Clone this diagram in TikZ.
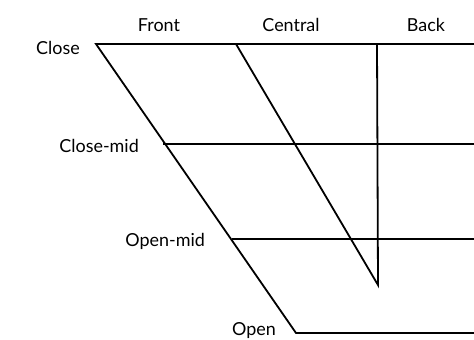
\documentclass[tikz,border=0pt]{standalone}
\usepackage{fontspec}
\setmainfont{Lato}
\begin{document}
\begin{tikzpicture}[x=1bp,y=-1bp,
  lbl/.style={font=\fontsize{18}{20}\selectfont, inner sep=0pt},
  edge/.style={line width=1.8bp, line join=miter}]
\useasboundingbox (0,0) rectangle (474,339);
% corners
\coordinate (c1) at (96,44);
\coordinate (cR) at (474,44);
\coordinate (cm1) at (163,144);
\coordinate (cmR) at (474,144);
\coordinate (om1) at (232,239);
\coordinate (omR) at (474,239);
\coordinate (o1) at (296,333);
\coordinate (oR) at (474,333);
\coordinate (ct) at (236,44);
\coordinate (cb) at (378,285);
\coordinate (bt) at (377,44);
% lines
\draw[edge] (cR) -- (c1) -- (o1) -- (oR);
\draw[edge] (cm1) -- (cmR);
\draw[edge] (om1) -- (omR);
\draw[edge] (ct) -- (cb) -- (bt);
% labels
\node[lbl] (front) at (159,25) {Front};
\node[lbl] (central) at (291,25) {Central};
\node[lbl] (back) at (426,25) {Back};
\node[lbl, anchor=east] (close) at (80,48) {Close};
\node[lbl, anchor=east] (closemid) at (139,146) {Close-mid};
\node[lbl, anchor=east] (openmid) at (205,241) {Open-mid};
\node[lbl, anchor=east] (open) at (276,331) {Open};
\end{tikzpicture}
\end{document}
